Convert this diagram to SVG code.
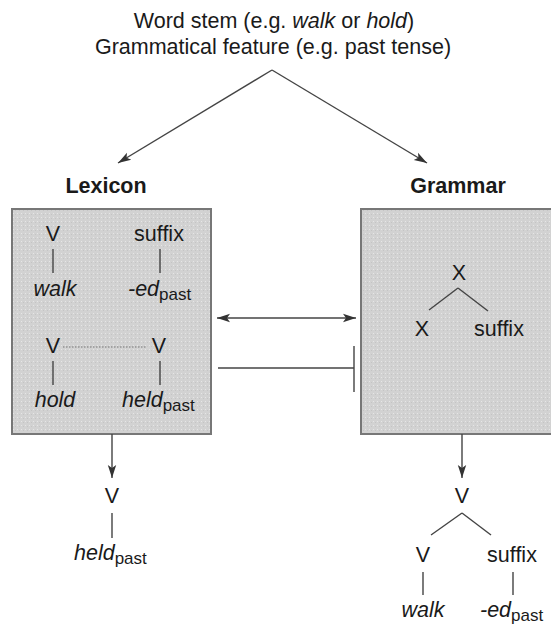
<svg xmlns="http://www.w3.org/2000/svg" width="551" height="625" viewBox="0 0 551 625">
<defs>
<marker id="ah" markerUnits="userSpaceOnUse" markerWidth="14" markerHeight="10" refX="13" refY="5" orient="auto-start-reverse">
<path d="M0,0.8 L13,5 L0,9.2 L3,5 z" fill="#333"/>
</marker>
<pattern id="stip" width="4" height="4" patternUnits="userSpaceOnUse">
<rect width="4" height="4" fill="#d2d2d2"/>
<rect x="1" y="1" width="1" height="1" fill="#e6e6e6"/>
<rect x="3" y="2" width="1" height="1" fill="#c4c4c4"/>
</pattern>
</defs>
<style>
text{font-family:"Liberation Sans",Arial,sans-serif;font-size:21.5px;fill:#1a1a1a;text-anchor:middle}
.b{font-weight:bold}
.i{font-style:italic}
.st{text-anchor:start}
.sub{font-size:17px;font-style:normal}
.ln{stroke:#444;stroke-width:1.4;fill:none}
.box{fill:url(#stip);stroke:#777;stroke-width:2}
</style>

<g id="title">
<text x="274" y="28">Word stem (e.g. <tspan class="i">walk</tspan> or <tspan class="i">hold</tspan>)</text>
<text x="273" y="54">Grammatical feature (e.g. past tense)</text>
</g>

<g id="lexicon">
<text class="b" x="106" y="193">Lexicon</text>
<rect class="box" x="12" y="209" width="199" height="225"/>
<text x="53" y="241">V</text>
<line class="ln" x1="53" y1="249" x2="53" y2="273"/>
<text class="i" x="55" y="296">walk</text>
<text x="159" y="241">suffix</text>
<line class="ln" x1="160" y1="249" x2="160" y2="273"/>
<text class="i st" x="128" y="296">-ed<tspan class="sub" dy="4">past</tspan></text>
<text x="53" y="353">V</text>
<line x1="63" y1="347" x2="146" y2="347" stroke="#777" stroke-width="1" stroke-dasharray="1.5,1.5"/>
<text x="159" y="353">V</text>
<line class="ln" x1="53" y1="361" x2="53" y2="385"/>
<line class="ln" x1="160" y1="361" x2="160" y2="385"/>
<text class="i" x="55" y="407">hold</text>
<text class="i st" x="122" y="407">held<tspan class="sub" dy="4">past</tspan></text>
</g>

<g id="grammar">
<text class="b" x="458" y="193">Grammar</text>
<rect class="box" x="361" y="209" width="192" height="225"/>
<text x="459" y="280">X</text>
<line class="ln" x1="458" y1="288" x2="429" y2="310"/>
<line class="ln" x1="458" y1="288" x2="488" y2="311"/>
<text x="422" y="336">X</text>
<text x="499" y="336">suffix</text>
</g>

<g id="lexicon-output">
<text x="112" y="503">V</text>
<line class="ln" x1="112" y1="513" x2="112" y2="538"/>
<text class="i st" x="74" y="560">held<tspan class="sub" dy="4">past</tspan></text>
</g>

<g id="grammar-output">
<text x="462" y="503">V</text>
<line class="ln" x1="462" y1="513" x2="431" y2="535"/>
<line class="ln" x1="462" y1="513" x2="491" y2="535"/>
<text x="423" y="562">V</text>
<text x="512" y="562">suffix</text>
<line class="ln" x1="423" y1="572" x2="423" y2="595"/>
<line class="ln" x1="513" y1="572" x2="513" y2="595"/>
<text class="i" x="423" y="617">walk</text>
<text class="i st" x="480" y="617">-ed<tspan class="sub" dy="4">past</tspan></text>
</g>

<g id="connectors">
<path class="ln" d="M272,70 L118,163" marker-end="url(#ah)"/>
<path class="ln" d="M272,70 L427,163" marker-end="url(#ah)"/>
<path class="ln" d="M217,318 L356,318" marker-start="url(#ah)" marker-end="url(#ah)"/>
<path class="ln" d="M218,368 L354,368"/>
<path class="ln" d="M354,346 L354,392" stroke-width="2"/>
<path class="ln" d="M112,434 L112,478" marker-end="url(#ah)"/>
<path class="ln" d="M462,434 L462,478" marker-end="url(#ah)"/>
</g>
</svg>
